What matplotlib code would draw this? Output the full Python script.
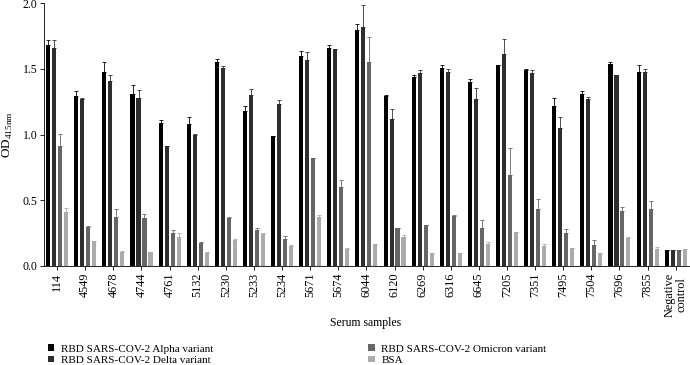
import numpy as np
import matplotlib
matplotlib.use("Agg")
import matplotlib.pyplot as plt
from matplotlib.patches import Patch

plt.rcParams['font.family'] = ['Liberation Serif', 'DejaVu Serif']

samples = ["114", "4549", "4678", "4744", "4761", "5132", "5230", "5233", "5234",
           "5671", "5674", "6044", "6120", "6269", "6316", "6645", "7205", "7351",
           "7495", "7504", "7696", "7855", "Negative\ncontrol"]

alpha = [1.68, 1.29, 1.48, 1.31, 1.09, 1.08, 1.55, 1.18, 0.99, 1.60, 1.66, 1.80,
         1.29, 1.44, 1.51, 1.40, 1.53, 1.49, 1.22, 1.31, 1.54, 1.48, 0.12]
alpha_err = [0.04, 0.04, 0.07, 0.07, 0.02, 0.055, 0.025, 0.035, 0.0, 0.04, 0.02, 0.04,
             0.01, 0.01, 0.02, 0.02, 0.0, 0.01, 0.06, 0.02, 0.01, 0.05, 0.0]
delta = [1.66, 1.27, 1.41, 1.28, 0.915, 1.00, 1.51, 1.30, 1.23, 1.57, 1.65, 1.82,
         1.12, 1.47, 1.48, 1.27, 1.61, 1.47, 1.05, 1.27, 1.45, 1.48, 0.12]
delta_err = [0.06, 0.005, 0.04, 0.06, 0.0, 0.005, 0.01, 0.05, 0.03, 0.055, 0.005, 0.165,
             0.074, 0.02, 0.02, 0.085, 0.12, 0.02, 0.08, 0.015, 0.0, 0.02, 0.0]
omicron = [0.915, 0.297, 0.368, 0.361, 0.252, 0.175, 0.363, 0.272, 0.206, 0.823, 0.602, 1.553,
           0.29, 0.313, 0.381, 0.285, 0.689, 0.43, 0.252, 0.158, 0.417, 0.435, 0.12]
omicron_err = [0.09, 0.005, 0.065, 0.035, 0.017, 0.005, 0.01, 0.015, 0.02, 0.0, 0.05, 0.19,
               0.0, 0.0, 0.005, 0.06, 0.21, 0.08, 0.03, 0.04, 0.03, 0.06, 0.0]
bsa = [0.407, 0.185, 0.107, 0.102, 0.22, 0.10, 0.196, 0.241, 0.152, 0.368, 0.13, 0.163,
       0.216, 0.094, 0.10, 0.163, 0.254, 0.147, 0.132, 0.094, 0.211, 0.13, 0.127]
bsa_err = [0.03, 0.005, 0.005, 0.005, 0.03, 0.005, 0.005, 0.01, 0.005, 0.02, 0.005, 0.005,
           0.015, 0.0, 0.0, 0.02, 0.0, 0.02, 0.0, 0.0, 0.01, 0.01, 0.0]

series = [
    ("RBD SARS-COV-2 Alpha variant", alpha, alpha_err, "#000000"),
    ("RBD SARS-COV-2 Delta variant", delta, delta_err, "#2e2e2e"),
    ("RBD SARS-COV-2 Omicron variant", omicron, omicron_err, "#666666"),
    ("BSA", bsa, bsa_err, "#ababab"),
]

fig = plt.figure(figsize=(6.9, 3.65), dpi=100)
ax = fig.add_axes([0.064, 0.272, 0.934, 0.719])

x = np.arange(len(samples))
step = 0.213
width = 0.145
for i, (name, vals, err, col) in enumerate(series):
    off = (i - 1.5) * step
    err = np.array(err)
    ax.bar(x + off, vals, width, color=col, edgecolor="none",
           yerr=[np.zeros_like(err), err], ecolor=col,
           error_kw=dict(elinewidth=0.6, capsize=1.2, capthick=0.6))

ax.set_xlim(-0.462, 22.46)
ax.set_ylim(0, 2.0)
ax.set_yticks([0.0, 0.5, 1.0, 1.5, 2.0])
ax.set_yticklabels(["0.0", "0.5", "1.0", "1.5", "2.0"], fontsize=8.5)
ax.set_xticks(x)
ax.set_xticklabels(samples, rotation=90, fontsize=8.8, linespacing=0.9)
ax.tick_params(axis="both", length=3, width=0.6, pad=2)
for s in ["top", "right"]:
    ax.spines[s].set_visible(False)
for s in ["left", "bottom"]:
    ax.spines[s].set_linewidth(0.6)

ax.set_ylabel("OD$_{\\mathregular{415nm}}$", fontsize=9.5, labelpad=5)
fig.text(0.53, 0.116, "Serum samples", ha="center", va="center", fontsize=8.5)

handles = [Patch(facecolor=c, edgecolor="none") for _, _, _, c in series]
labels = [n for n, _, _, _ in series]
kw = dict(frameon=False, fontsize=8, handlelength=0.55, handleheight=0.55,
          handletextpad=0.6, labelspacing=0.2, borderpad=0)
fig.legend(handles[:2], labels[:2], loc="upper left", bbox_to_anchor=(0.062, 0.072), **kw)
fig.legend(handles[2:], labels[2:], loc="upper left", bbox_to_anchor=(0.526, 0.072), **kw)

fig.savefig("out.png", dpi=100)
